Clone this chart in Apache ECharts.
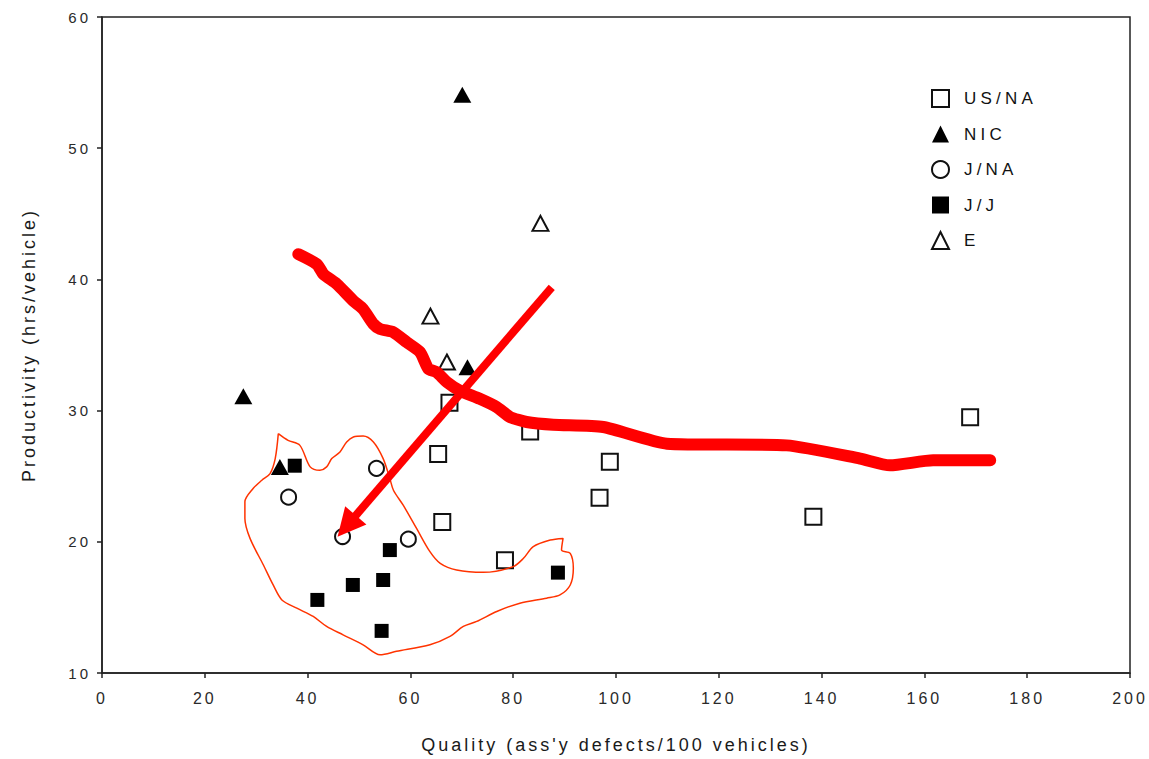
<!DOCTYPE html>
<html>
<head>
<meta charset="utf-8">
<script src="https://cdn.jsdelivr.net/npm/echarts@6/dist/echarts.min.js"></script>
<style>
html,body{margin:0;padding:0;background:#fff;}
#c{width:1149px;height:759px;}
#c text{letter-spacing:3px;}
#c text[style*="17px"]{letter-spacing:4.2px;}
</style>
</head>
<body>
<div id="c"></div>
<script>
// ---- data ----
const usna = [[67.6,30.6],[83.3,28.4],[65.4,26.7],[98.8,26.1],[96.8,23.35],[66.2,21.5],[78.4,18.6],[138.4,21.9],[168.9,29.5]];
const nic  = [[70.1,54.07],[27.5,31.1],[71.1,33.3],[34.6,25.7]];
const jna  = [[36.3,23.4],[53.4,25.6],[46.8,20.4],[59.6,20.2]];
const jj   = [[37.5,25.8],[56.0,19.37],[54.7,17.09],[48.8,16.71],[41.9,15.57],[54.4,13.21],[88.7,17.65]];
const eur  = [[85.3,44.27],[63.9,37.2],[67.1,33.7]];
// annotations (data coordinates)
const thickLine = [[38.2,41.92],[41.8,41.16],[43.1,40.40],[45.7,39.64],[48.9,38.37],[50.8,37.74],[52.8,36.60],[54.1,36.22],[56.7,35.97],[59.3,35.21],[61.9,34.45],[63.5,33.18],[65.1,32.93],[67.1,32.17],[69.6,31.53],[73.5,30.90],[76.8,30.27],[79.4,29.51],[82.6,29.13],[87.8,28.92],[97.5,28.75],[109.9,27.48],[133.2,27.35],[147.5,26.34],[153.3,25.83],[161.7,26.21],[172.8,26.21]];
const blob = [[34.3,28.24],[36.2,27.73],[38.5,27.35],[40.5,25.71],[42.4,25.45],[43.7,25.71],[44.7,26.34],[46.3,26.85],[47.6,27.61],[48.9,27.99],[50.8,28.06],[52.8,27.61],[54.7,26.34],[56.0,24.82],[56.7,23.93],[58.6,22.79],[61.2,21.02],[63.8,19.25],[65.8,18.36],[69.0,17.85],[74.2,17.67],[80.0,18.11],[82.0,18.74],[83.9,19.63],[87.2,20.13],[89.7,20.26],[89.4,19.37],[91.1,19.12],[91.7,17.98],[91.1,16.71],[89.1,15.95],[86.5,15.70],[81.3,15.32],[76.8,14.69],[72.9,13.93],[70.3,13.55],[67.7,12.79],[63.8,12.15],[57.3,11.65],[54.1,11.39],[50.8,12.15],[46.9,12.91],[43.7,13.55],[41.1,14.31],[37.9,14.94],[35.0,15.57],[33.3,16.71],[31.4,18.23],[28.8,20.26],[27.8,21.78],[27.8,23.05],[29.4,24.06],[31.1,24.69],[32.7,25.20],[33.7,26.34],[34.3,28.24]];
const arrow = [[87.5,39.4],[47.6,21.2]];
const seriesNames = ['US/NA','NIC','J/NA','J/J','E'];

const chart = echarts.init(document.getElementById('c'), null, {renderer:'svg'});
const font = 'Liberation Sans, Arial, sans-serif';
const openStyle = {color:'#fff', borderColor:'#111', borderWidth:2, opacity:1};
const fillStyle = {color:'#000', opacity:1};
chart.setOption({
  animation:false,
  backgroundColor:'#fff',
  grid:{left:102,right:19,top:17,bottom:84,show:true,borderColor:'#222',borderWidth:1.5,backgroundColor:'transparent'},
  legend:{
    data:seriesNames, orient:'vertical', left:926, top:84, itemGap:17.5, itemWidth:17, itemHeight:17,
    textStyle:{fontFamily:font,fontSize:17,color:'#111',padding:[0,0,0,10]}
  },
  xAxis:{
    type:'value', min:0, max:200, interval:20,
    name:"Quality (ass'y defects/100 vehicles)", nameLocation:'middle', nameGap:63,
    nameTextStyle:{fontFamily:font,fontSize:18,color:'#1a1a1a'},
    axisLine:{show:true,onZero:false,lineStyle:{color:'#222',width:1.5}},
    axisTick:{show:true,length:5,inside:false,lineStyle:{color:'#222',width:1.5}},
    axisLabel:{fontFamily:font,fontSize:16,color:'#2a2a2a',margin:17},
    splitLine:{show:false}
  },
  yAxis:{
    type:'value', min:10, max:60, interval:10,
    name:'Productivity (hrs/vehicle)', nameLocation:'middle', nameGap:64,
    nameTextStyle:{fontFamily:font,fontSize:18,color:'#1a1a1a'},
    axisLine:{show:true,onZero:false,lineStyle:{color:'#222',width:1.5}},
    axisTick:{show:true,length:5,inside:false,lineStyle:{color:'#222',width:1.5}},
    axisLabel:{fontFamily:font,fontSize:15,color:'#2a2a2a',margin:11},
    splitLine:{show:false}
  },
  series:[
    {name:'US/NA',type:'scatter',data:usna,symbol:'rect',symbolSize:16,itemStyle:openStyle,z:3},
    {name:'NIC',type:'scatter',data:nic,symbol:'triangle',symbolSize:[18,16],itemStyle:fillStyle,z:3},
    {name:'J/NA',type:'scatter',data:jna,symbol:'circle',symbolSize:15,itemStyle:openStyle,z:3},
    {name:'J/J',type:'scatter',data:jj,symbol:'rect',symbolSize:14,itemStyle:fillStyle,z:3},
    {name:'E',type:'scatter',data:eur,symbol:'triangle',symbolSize:[16,15],itemStyle:openStyle,z:3},
    {name:'blob',type:'line',data:blob,smooth:0.3,symbol:'none',lineStyle:{color:'#ff3300',width:1.5},z:5,silent:true},
    {name:'thick',type:'line',data:thickLine,smooth:0.2,symbol:'none',lineStyle:{color:'#ff0000',width:12,cap:'round',join:'round'},z:6,silent:true},
    {name:'arrow',type:'lines',coordinateSystem:'cartesian2d',data:[{coords:arrow}],
      symbol:['none','triangle'],symbolSize:[26,28],lineStyle:{color:'#ff0000',width:8,opacity:1},z:7,silent:true}
  ]
});
</script>
</body>
</html>
